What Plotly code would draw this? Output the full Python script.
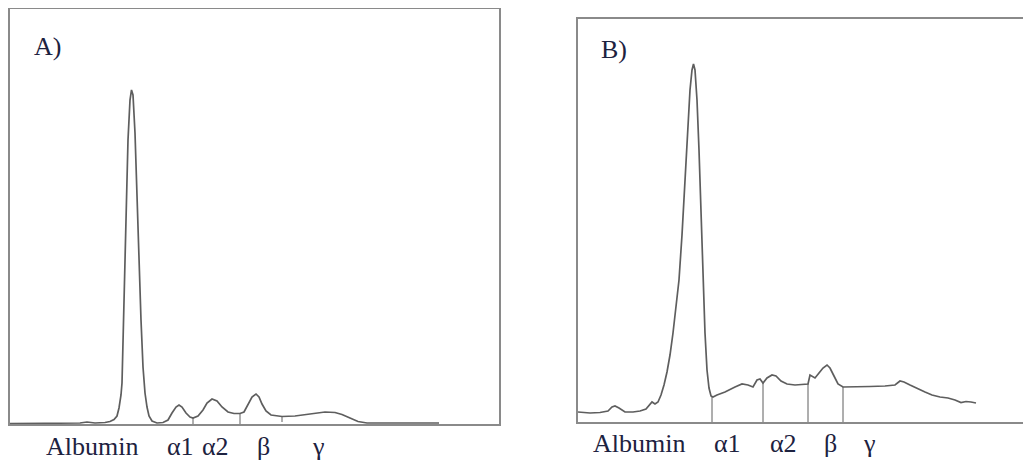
import plotly.graph_objects as go

# ---------------- Data ----------------
# Panel A: densitometric trace (mobility, absorbance; arbitrary units)
a_x = [0, 40, 70, 77, 85, 95, 100, 104, 107, 109, 111, 112, 113.5, 115, 116.5, 118, 120, 121.5,
       123, 125, 127, 129, 131, 133, 135, 137, 139, 142, 147, 153, 158, 162, 166, 169, 172, 176,
       180, 183, 188, 193, 197, 202, 207, 212, 218, 224, 230, 234, 238, 242, 246, 249, 252, 256,
       261, 272, 285, 300, 315, 325, 332, 340, 348, 357, 390, 429]
a_y = [0.5, 0.5, 1, 2, 1, 1.5, 2.5, 4.5, 8, 16, 29, 41, 94, 157, 224, 284, 324, 334,
       329, 291, 224, 157, 104, 57, 31, 17, 8, 3, 1, 1.5, 4, 11, 17, 19, 17, 11,
       7, 6, 8, 14, 21, 25, 23, 17, 12, 10.5, 10.5, 12, 19, 27, 30, 27, 20, 13,
       9, 7.5, 8, 10, 12, 11.5, 9.5, 6, 2.5, 1, 1, 1]
a_div_x = [183, 230, 272]
a_div_top = [6, 10.5, 7.5]
a_div_bot = [0, 0, 2]
a_labels = ["Albumin", "α1", "α2", "β", "γ"]
a_label_x = [82, 170, 205, 253, 308]

# Panel B
b_x = [0, 12, 22, 30, 34, 37, 41, 47, 55, 62, 68, 71, 74, 77, 80, 83, 86, 89, 92, 95, 98, 101,
       104, 107, 110, 112, 114, 115.5, 117, 119, 121, 123, 125, 127, 129, 131, 133, 135, 139,
       147, 157, 164, 170, 175, 179, 182, 185, 189, 194, 198, 203, 209, 217, 230, 232, 234,
       237, 241, 245, 249, 252, 256, 260, 265, 277, 292, 307, 317, 322, 326, 332, 340, 347,
       354, 362, 370, 377, 383, 388, 393, 398]
b_y = [10, 9, 9.5, 11, 15, 16, 14, 10, 10, 11, 13, 16, 20, 18, 20, 27, 37, 50, 67, 89, 114, 142,
       187, 242, 297, 332, 352, 358, 352, 322, 272, 212, 147, 89, 52, 34, 26, 25, 27,
       30, 35, 38, 37, 35, 42, 43, 39, 44, 47, 46, 41, 38, 37, 38, 47, 46,
       44, 49, 54, 57, 54, 46, 38, 35, 35, 35.5, 36, 37, 41, 40, 37, 33, 30,
       27, 25, 24, 22, 19.5, 20.5, 20, 19]
b_div_x = [134, 185, 230, 265]
b_div_top = [25, 39, 38, 35]
b_labels = ["Albumin", "α1", "α2", "β", "γ"]
b_label_x = [61, 149, 205, 252, 291]

# ---------------- Styling ----------------
# The page body has an 8px margin, so the figure is 8px smaller than the window.
OFF = 8
W, H = 1031 - OFF, 461 - OFF
trace_col = "#5e5e5e"
box_col = "#8a8a8a"
txt_col = "#1d2240"
font_fam = "Liberation Serif"
fs = 26


def px_x(p):
    return (p - OFF) / W


def px_y(p):
    return (H - (p - OFF)) / H


fig = go.Figure()

fig.add_trace(go.Scatter(x=a_x, y=a_y, mode="lines", line=dict(color=trace_col, width=1.7),
                         xaxis="x", yaxis="y", hoverinfo="skip"))
for xv, yt, yb in zip(a_div_x, a_div_top, a_div_bot):
    fig.add_trace(go.Scatter(x=[xv, xv], y=[yb, yt], mode="lines",
                             line=dict(color=trace_col, width=1), xaxis="x", yaxis="y",
                             hoverinfo="skip"))

fig.add_trace(go.Scatter(x=b_x, y=b_y, mode="lines", line=dict(color=trace_col, width=1.7),
                         xaxis="x2", yaxis="y2", hoverinfo="skip"))
for xv, yt in zip(b_div_x, b_div_top):
    fig.add_trace(go.Scatter(x=[xv, xv], y=[0, yt], mode="lines",
                             line=dict(color=trace_col, width=1), xaxis="x2", yaxis="y2",
                             hoverinfo="skip"))

axis_common = dict(showgrid=False, zeroline=False, showline=True, linecolor=box_col,
                   linewidth=1.5, ticks="", showticklabels=False, fixedrange=True)

annotations = []
for lab, xv in zip(a_labels, a_label_x):
    annotations.append(dict(text=lab, x=xv, y=px_y(446), xref="x", yref="paper",
                            showarrow=False, xanchor="center", yanchor="middle"))
for lab, xv in zip(b_labels, b_label_x):
    annotations.append(dict(text=lab, x=xv, y=px_y(443), xref="x2", yref="paper",
                            showarrow=False, xanchor="center", yanchor="middle"))
annotations.append(dict(text="A)", x=22, y=378, xref="x", yref="y", showarrow=False,
                        xanchor="left", yanchor="middle"))
annotations.append(dict(text="B)", x=21, y=373, xref="x2", yref="y2", showarrow=False,
                        xanchor="left", yanchor="middle"))

fig.update_layout(
    width=W, height=H,
    margin=dict(l=0, r=0, t=0, b=0),
    paper_bgcolor="white", plot_bgcolor="white",
    showlegend=False,
    font=dict(family=font_fam, size=fs, color=txt_col),
    xaxis=dict(domain=[px_x(10), px_x(499)], range=[0, 489], mirror=True, anchor="y",
               **axis_common),
    yaxis=dict(domain=[px_y(424), px_y(9)], range=[0, 415], mirror=True, anchor="x",
               **axis_common),
    xaxis2=dict(domain=[px_x(578), 1.0], range=[0, 453], mirror=True, anchor="y2",
                **axis_common),
    yaxis2=dict(domain=[px_y(422), px_y(19)], range=[0, 403], mirror=False, anchor="x2",
                **axis_common),
    annotations=annotations,
)

fig.write_html("out.html")
